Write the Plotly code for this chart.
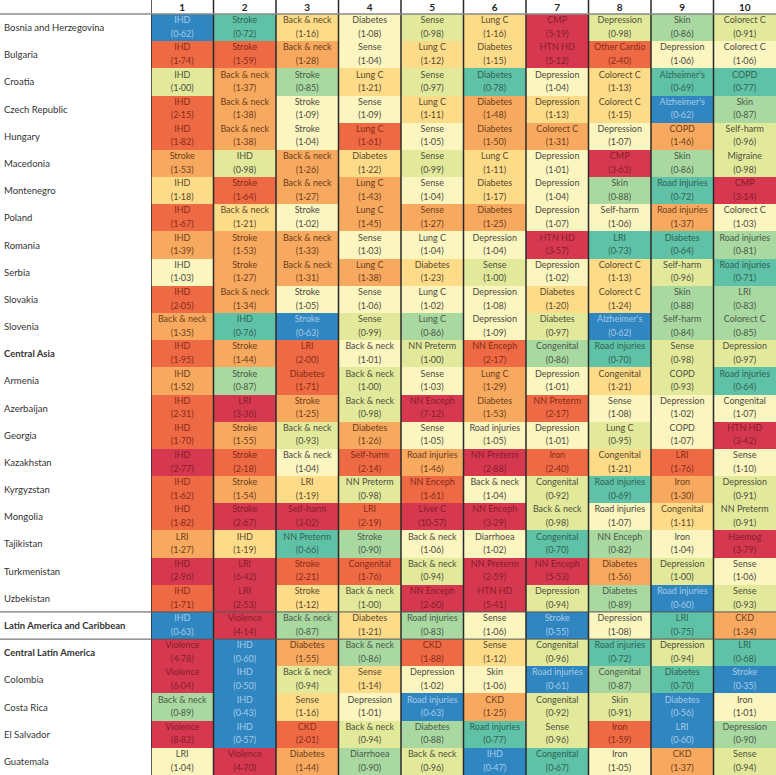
import numpy as np
import plotly.graph_objects as go

rows = ["Bosnia and Herzegovina", "Bulgaria", "Croatia", "Czech Republic", "Hungary",
        "Macedonia", "Montenegro", "Poland", "Romania", "Serbia", "Slovakia", "Slovenia",
        "Central Asia", "Armenia", "Azerbaijan", "Georgia", "Kazakhstan", "Kyrgyzstan",
        "Mongolia", "Tajikistan", "Turkmenistan", "Uzbekistan",
        "Latin America and Caribbean", "Central Latin America", "Colombia", "Costa Rica",
        "El Salvador", "Guatemala"]
bold_rows = ["Central Asia", "Latin America and Caribbean", "Central Latin America"]
rank_labels = ["1", "2", "3", "4", "5", "6", "7", "8", "9", "10"]

causes = [
    ["IHD", "Stroke", "Back & neck", "Diabetes", "Sense", "Lung C", "CMP", "Depression", "Skin", "Colorect C"],
    ["IHD", "Stroke", "Back & neck", "Sense", "Lung C", "Diabetes", "HTN HD", "Other Cardio", "Depression", "Colorect C"],
    ["IHD", "Back & neck", "Stroke", "Lung C", "Sense", "Diabetes", "Depression", "Colorect C", "Alzheimer's", "COPD"],
    ["IHD", "Back & neck", "Stroke", "Sense", "Lung C", "Diabetes", "Depression", "Colorect C", "Alzheimer's", "Skin"],
    ["IHD", "Back & neck", "Stroke", "Lung C", "Sense", "Diabetes", "Colorect C", "Depression", "COPD", "Self-harm"],
    ["Stroke", "IHD", "Back & neck", "Diabetes", "Sense", "Lung C", "Depression", "CMP", "Skin", "Migraine"],
    ["IHD", "Stroke", "Back & neck", "Lung C", "Sense", "Diabetes", "Depression", "Skin", "Road injuries", "CMP"],
    ["IHD", "Back & neck", "Stroke", "Lung C", "Sense", "Diabetes", "Depression", "Self-harm", "Road injuries", "Colorect C"],
    ["IHD", "Stroke", "Back & neck", "Sense", "Lung C", "Depression", "HTN HD", "LRI", "Diabetes", "Road injuries"],
    ["IHD", "Stroke", "Back & neck", "Lung C", "Diabetes", "Sense", "Depression", "Colorect C", "Self-harm", "Road injuries"],
    ["IHD", "Back & neck", "Stroke", "Sense", "Lung C", "Depression", "Diabetes", "Colorect C", "Skin", "LRI"],
    ["Back & neck", "IHD", "Stroke", "Sense", "Lung C", "Depression", "Diabetes", "Alzheimer's", "Self-harm", "Colorect C"],
    ["IHD", "Stroke", "LRI", "Back & neck", "NN Preterm", "NN Enceph", "Congenital", "Road injuries", "Sense", "Depression"],
    ["IHD", "Stroke", "Diabetes", "Back & neck", "Sense", "Lung C", "Depression", "Congenital", "COPD", "Road injuries"],
    ["IHD", "LRI", "Stroke", "Back & neck", "NN Enceph", "Diabetes", "NN Preterm", "Sense", "Depression", "Congenital"],
    ["IHD", "Stroke", "Back & neck", "Diabetes", "Sense", "Road injuries", "Depression", "Lung C", "COPD", "HTN HD"],
    ["IHD", "Stroke", "Back & neck", "Self-harm", "Road injuries", "NN Preterm", "Iron", "Congenital", "LRI", "Sense"],
    ["IHD", "Stroke", "LRI", "NN Preterm", "NN Enceph", "Back & neck", "Congenital", "Road injuries", "Iron", "Depression"],
    ["IHD", "Stroke", "Self-harm", "LRI", "Liver C", "NN Enceph", "Back & neck", "Road injuries", "Congenital", "NN Preterm"],
    ["LRI", "IHD", "NN Preterm", "Stroke", "Back & neck", "Diarrhoea", "Congenital", "NN Enceph", "Iron", "Haemog"],
    ["IHD", "LRI", "Stroke", "Congenital", "Back & neck", "NN Preterm", "NN Enceph", "Diabetes", "Depression", "Sense"],
    ["IHD", "LRI", "Stroke", "Back & neck", "NN Enceph", "HTN HD", "Depression", "Diabetes", "Road injuries", "Sense"],
    ["IHD", "Violence", "Back & neck", "Diabetes", "Road injuries", "Sense", "Stroke", "Depression", "LRI", "CKD"],
    ["Violence", "IHD", "Diabetes", "Back & neck", "CKD", "Sense", "Congenital", "Road injuries", "Depression", "LRI"],
    ["Violence", "IHD", "Back & neck", "Sense", "Depression", "Skin", "Road injuries", "Congenital", "Diabetes", "Stroke"],
    ["Back & neck", "IHD", "Sense", "Depression", "Road injuries", "CKD", "Congenital", "Skin", "Diabetes", "Iron"],
    ["Violence", "IHD", "CKD", "Back & neck", "Diabetes", "Road injuries", "Sense", "Iron", "LRI", "Depression"],
    ["LRI", "Violence", "Diabetes", "Diarrhoea", "Back & neck", "IHD", "Congenital", "Iron", "CKD", "Sense"],
]

ratios = [
    [0.62, 0.72, 1.16, 1.08, 0.98, 1.16, 5.19, 0.98, 0.86, 0.91],
    [1.74, 1.59, 1.28, 1.04, 1.12, 1.15, 5.12, 2.40, 1.06, 1.06],
    [1.00, 1.37, 0.85, 1.21, 0.97, 0.78, 1.04, 1.13, 0.69, 0.77],
    [2.15, 1.38, 1.09, 1.09, 1.11, 1.48, 1.13, 1.15, 0.62, 0.87],
    [1.82, 1.38, 1.04, 1.61, 1.05, 1.50, 1.31, 1.07, 1.46, 0.96],
    [1.53, 0.98, 1.26, 1.22, 0.99, 1.11, 1.01, 3.63, 0.86, 0.98],
    [1.18, 1.64, 1.27, 1.43, 1.04, 1.17, 1.04, 0.88, 0.72, 3.14],
    [1.67, 1.21, 1.02, 1.45, 1.27, 1.25, 1.07, 1.06, 1.37, 1.03],
    [1.39, 1.53, 1.33, 1.03, 1.04, 1.04, 3.57, 0.73, 0.64, 0.81],
    [1.03, 1.27, 1.31, 1.38, 1.23, 1.00, 1.02, 1.13, 0.96, 0.71],
    [2.05, 1.34, 1.05, 1.06, 1.02, 1.08, 1.20, 1.24, 0.88, 0.83],
    [1.35, 0.76, 0.63, 0.99, 0.86, 1.09, 0.97, 0.62, 0.84, 0.85],
    [1.95, 1.44, 2.00, 1.01, 1.00, 2.17, 0.86, 0.70, 0.98, 0.97],
    [1.52, 0.87, 1.71, 1.00, 1.03, 1.29, 1.01, 1.21, 0.93, 0.64],
    [2.31, 3.36, 1.25, 0.98, 7.12, 1.53, 2.17, 1.08, 1.02, 1.07],
    [1.70, 1.55, 0.93, 1.26, 1.05, 1.05, 1.01, 0.95, 1.07, 3.42],
    [2.77, 2.18, 1.04, 2.14, 1.46, 2.88, 2.40, 1.21, 1.76, 1.10],
    [1.62, 1.54, 1.19, 0.98, 1.61, 1.04, 0.92, 0.69, 1.30, 0.91],
    [1.82, 2.67, 3.02, 2.19, 10.57, 3.29, 0.98, 1.07, 1.11, 0.91],
    [1.27, 1.19, 0.66, 0.90, 1.06, 1.02, 0.70, 0.82, 1.04, 3.79],
    [2.96, 6.42, 2.21, 1.76, 0.94, 2.59, 5.53, 1.56, 1.00, 1.06],
    [1.71, 2.53, 1.12, 1.00, 2.60, 5.41, 0.94, 0.89, 0.60, 0.93],
    [0.63, 4.14, 0.87, 1.21, 0.83, 1.06, 0.55, 1.08, 0.75, 1.34],
    [4.78, 0.60, 1.55, 0.86, 1.88, 1.12, 0.96, 0.72, 0.94, 0.68],
    [6.04, 0.50, 0.94, 1.14, 1.02, 1.06, 0.61, 0.87, 0.70, 0.35],
    [0.89, 0.43, 1.16, 1.01, 0.63, 1.25, 0.92, 0.91, 0.56, 1.01],
    [8.82, 0.57, 2.01, 0.94, 0.88, 0.77, 0.96, 1.59, 0.60, 0.90],
    [1.04, 4.70, 1.44, 0.90, 0.96, 0.47, 0.67, 1.05, 1.37, 0.94],
]

# ---- colour classes (scale) ----
bin_edges = [0.635, 0.8, 0.905, 1.005, 1.105, 1.245, 1.565, 2.5]
fill_colors = ["#2f86c1", "#5fc2a7", "#a9d8a1", "#e2e99b", "#fbf6c0",
               "#fcdc89", "#f7a95f", "#ee6a45", "#d6394f"]
text_colors = ["#a6cae6", "#2f6456", "#4a5c48", "#505240", "#4e4c40",
               "#5c4a2c", "#6e3e1c", "#8a2a18", "#861c2e"]

vals = np.array(ratios, dtype=float)
cls = np.digitize(vals, bin_edges)
n_cls = len(fill_colors)
colorscale = []
for k, c in enumerate(fill_colors):
    colorscale.append([k / n_cls, c])
    colorscale.append([(k + 1) / n_cls, c])

n_rows = len(rows)
n_cols = len(rank_labels)
xs = list(range(n_cols))
ys = list(range(n_rows))

fig = go.Figure()
fig.add_trace(go.Heatmap(
    x=xs, y=ys, z=cls, zmin=-0.5, zmax=n_cls - 0.5,
    colorscale=colorscale, showscale=False, hoverinfo="skip"))

cell_font = "Lato, Roboto, sans-serif"
cx, cy_top, cy_bot, t_name, t_val, tc = [], [], [], [], [], []
for i in range(n_rows):
    for j in range(n_cols):
        cx.append(j)
        cy_top.append(i - 0.245)
        cy_bot.append(i + 0.255)
        t_name.append(causes[i][j])
        t_val.append(f"({ratios[i][j]:.2f})".replace(".", "\u00b7"))
        tc.append(text_colors[cls[i, j]])

for yy, tt in ((cy_top, t_name), (cy_bot, t_val)):
    fig.add_trace(go.Scatter(
        x=cx, y=yy, text=tt, mode="text", textposition="middle center",
        textfont=dict(family=cell_font, size=9, color=tc), hoverinfo="skip",
        showlegend=False))

W, H = 776, 775
top = 14
left_px = 151
fig.update_layout(
    width=W, height=H, margin=dict(l=0, r=0, t=top, b=0, pad=0),
    paper_bgcolor="white", plot_bgcolor="white", showlegend=False,
    xaxis=dict(domain=[left_px / W, 1], range=[-0.5, n_cols - 0.5], side="top",
               tickmode="array", tickvals=xs,
               ticktext=[f"<b>{t}</b>" for t in rank_labels],
               tickfont=dict(family=cell_font, size=10, color="#222"),
               ticks="", ticklabelstandoff=0, showgrid=False, zeroline=False,
               showline=False, fixedrange=True),
    yaxis=dict(range=[n_rows - 0.5, -0.5], showticklabels=False, ticks="",
               showgrid=False, zeroline=False, showline=False, fixedrange=True),
)

# row labels
for i, r in enumerate(rows):
    txt = f"<b>{r}</b>" if r in bold_rows else r
    fig.add_annotation(x=0.003, xref="paper", y=i, yref="y", text=txt, showarrow=False,
                       xanchor="left", yanchor="middle",
                       font=dict(family=cell_font, size=9.5, color="#333"))

# vertical separators
ext = 1 + top / (H - top)
for j in range(n_cols):
    fig.add_shape(type="line", xref="x", yref="paper", x0=j - 0.5, x1=j - 0.5,
                  y0=0, y1=ext, line=dict(color="#2a2a2a", width=1.5))
# header rule
fig.add_shape(type="line", xref="paper", yref="paper", x0=0, x1=1, y0=1, y1=1,
              line=dict(color="#8a8a8a", width=1.5))
# rules around region block
reg = rows.index("Latin America and Caribbean")
for yy in (reg - 0.5, reg + 0.5):
    fig.add_shape(type="line", xref="paper", yref="y", x0=0, x1=1, y0=yy, y1=yy,
                  line=dict(color="#555", width=1))

fig.write_html("out.html", config={"displayModeBar": False},
               post_script="document.body.style.margin='0px';")
